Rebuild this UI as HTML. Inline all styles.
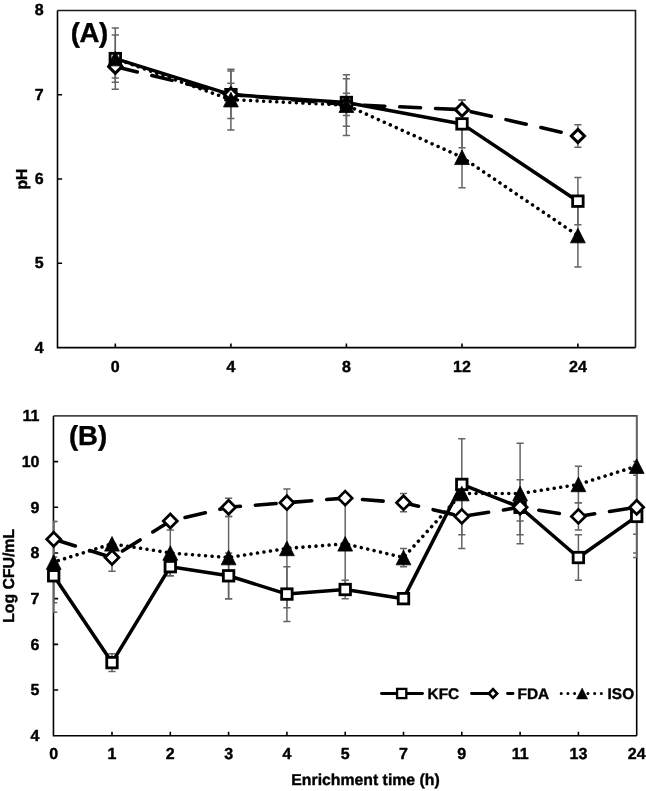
<!DOCTYPE html><html><head><meta charset="utf-8"><style>html,body{margin:0;padding:0;background:#fff;}svg{display:block;will-change:transform;}text{font-family:"Liberation Sans", sans-serif;font-weight:bold;fill:#000;stroke:#000;stroke-width:0.4px;stroke-linejoin:round;text-rendering:geometricPrecision;}</style></head><body>
<svg width="646" height="791" viewBox="0 0 646 791">
<rect width="646" height="791" fill="#fff"/>
<defs><clipPath id="ca"><rect x="56.7" y="9.4" width="579.6" height="338.7"/></clipPath><clipPath id="cb"><rect x="52.9" y="415.1" width="584.6" height="321.4"/></clipPath></defs>
<path d="M57.5 10.45H635.5V347.6" fill="none" stroke="#1a1a1a" stroke-width="1.6"/>
<path d="M57.5 10.45V347.6H635.5" fill="none" stroke="#000" stroke-width="1.6"/>
<path d="M57.5 263.31H62.1M57.5 179.03H62.1M57.5 94.74H62.1M115.3 347.6V343.6M230.9 347.6V343.6M346.4 347.6V343.6M462 347.6V343.6M577.9 347.6V343.6" stroke="#000" stroke-width="1.6" fill="none"/>
<text x="43.6" y="352.55" font-size="16" text-anchor="end">4</text>
<text x="43.6" y="268.26" font-size="16" text-anchor="end">5</text>
<text x="43.6" y="183.97" font-size="16" text-anchor="end">6</text>
<text x="43.6" y="99.69" font-size="16" text-anchor="end">7</text>
<text x="43.6" y="15.4" font-size="16" text-anchor="end">8</text>
<text x="115.3" y="372" font-size="16" text-anchor="middle">0</text>
<text x="230.9" y="372" font-size="16" text-anchor="middle">4</text>
<text x="346.4" y="372" font-size="16" text-anchor="middle">8</text>
<text x="462" y="372" font-size="16" text-anchor="middle">12</text>
<text x="577.9" y="372" font-size="16" text-anchor="middle">24</text>
<text transform="translate(26.5 179) rotate(-90)" font-size="15.8" text-anchor="middle">pH</text>
<text x="70.8" y="41.8" font-size="27.5" text-anchor="start" letter-spacing="-0.4">(A)</text>
<g clip-path="url(#ca)"><path d="M115.3 34.89V82.26M111.7 34.89H118.9M111.7 82.26H118.9" stroke="#646464" stroke-width="1.5" fill="none"/><path d="M230.9 70.88V118.41M227.3 70.88H234.5M227.3 118.41H234.5" stroke="#646464" stroke-width="1.5" fill="none"/><path d="M346.4 78.63V126.33M342.8 78.63H350M342.8 126.33H350" stroke="#646464" stroke-width="1.5" fill="none"/><path d="M462 99.95V147.82M458.4 99.95H465.6M458.4 147.82H465.6" stroke="#646464" stroke-width="1.5" fill="none"/><path d="M577.9 177.57V224.76M574.3 177.57H581.5M574.3 224.76H581.5" stroke="#646464" stroke-width="1.5" fill="none"/><path d="M115.3 55.37V77.96M111.7 55.37H118.9M111.7 77.96H118.9" stroke="#646464" stroke-width="1.5" fill="none"/><path d="M230.9 83.35V105.77M227.3 83.35H234.5M227.3 105.77H234.5" stroke="#646464" stroke-width="1.5" fill="none"/><path d="M346.4 93.3V115.54M342.8 93.3H350M342.8 115.54H350" stroke="#646464" stroke-width="1.5" fill="none"/><path d="M462 99.95V119.34M458.4 99.95H465.6M458.4 119.34H465.6" stroke="#646464" stroke-width="1.5" fill="none"/><path d="M577.9 124.65V147.23M574.3 124.65H581.5M574.3 147.23H581.5" stroke="#646464" stroke-width="1.5" fill="none"/><path d="M115.3 27.9V89.25M111.7 27.9H118.9M111.7 89.25H118.9" stroke="#646464" stroke-width="1.5" fill="none"/><path d="M230.9 69.19V130.04M227.3 69.19H234.5M227.3 130.04H234.5" stroke="#646464" stroke-width="1.5" fill="none"/><path d="M346.4 74.75V135.6M342.8 74.75H350M342.8 135.6H350" stroke="#646464" stroke-width="1.5" fill="none"/><path d="M462 126.75V187.77M458.4 126.75H465.6M458.4 187.77H465.6" stroke="#646464" stroke-width="1.5" fill="none"/><path d="M577.9 204.12V266.99M574.3 204.12H581.5M574.3 266.99H581.5" stroke="#646464" stroke-width="1.5" fill="none"/></g>
<g clip-path="url(#ca)">
<path d="M115.3 58.57 L230.9 94.64 L346.4 102.48 L462 123.89 L577.9 201.17" fill="none" stroke="#000" stroke-width="3.55" stroke-linejoin="round" stroke-linecap="round"/>
</g>
<rect x="110.05" y="53.32" width="10.5" height="10.5" fill="#fff" stroke="#000" stroke-width="2.8"/><rect x="225.65" y="89.39" width="10.5" height="10.5" fill="#fff" stroke="#000" stroke-width="2.8"/><rect x="341.15" y="97.23" width="10.5" height="10.5" fill="#fff" stroke="#000" stroke-width="2.8"/><rect x="456.75" y="118.64" width="10.5" height="10.5" fill="#fff" stroke="#000" stroke-width="2.8"/><rect x="572.65" y="195.92" width="10.5" height="10.5" fill="#fff" stroke="#000" stroke-width="2.8"/>
<g clip-path="url(#ca)">
<path d="M115.3 66.66 L230.9 94.56 L346.4 104.42 L462 109.64 L577.9 135.94" fill="none" stroke="#000" stroke-width="3.55" stroke-linejoin="round" stroke-linecap="round" stroke-dasharray="20.8 15.0" stroke-dashoffset="-1.85"/>
</g>
<path d="M115.3 60.06L121.9 66.66L115.3 73.26L108.7 66.66Z" fill="#fff" stroke="#000" stroke-width="3" stroke-linejoin="miter"/><path d="M230.9 87.96L237.5 94.56L230.9 101.16L224.3 94.56Z" fill="#fff" stroke="#000" stroke-width="3" stroke-linejoin="miter"/><path d="M346.4 97.82L353 104.42L346.4 111.02L339.8 104.42Z" fill="#fff" stroke="#000" stroke-width="3" stroke-linejoin="miter"/><path d="M462 103.04L468.6 109.64L462 116.24L455.4 109.64Z" fill="#fff" stroke="#000" stroke-width="3" stroke-linejoin="miter"/><path d="M577.9 129.34L584.5 135.94L577.9 142.54L571.3 135.94Z" fill="#fff" stroke="#000" stroke-width="3" stroke-linejoin="miter"/>
<g clip-path="url(#ca)">
<path d="M115.3 58.57 L230.9 99.62 L346.4 105.18 L462 157.26 L577.9 235.55" fill="none" stroke="#000" stroke-width="3.55" stroke-linecap="round" stroke-dasharray="0.01 6.54" stroke-dashoffset="1.75"/>
</g>
<path d="M115.3 51.27L122.7 65.87L107.9 65.87Z" fill="#000" stroke="#000" stroke-width="0.8" stroke-linejoin="miter"/><path d="M230.9 92.32L238.3 106.92L223.5 106.92Z" fill="#000" stroke="#000" stroke-width="0.8" stroke-linejoin="miter"/><path d="M346.4 97.88L353.8 112.48L339 112.48Z" fill="#000" stroke="#000" stroke-width="0.8" stroke-linejoin="miter"/><path d="M462 149.96L469.4 164.56L454.6 164.56Z" fill="#000" stroke="#000" stroke-width="0.8" stroke-linejoin="miter"/><path d="M577.9 228.25L585.3 242.85L570.5 242.85Z" fill="#000" stroke="#000" stroke-width="0.8" stroke-linejoin="miter"/>
<path d="M53.45 415.9H636.7" fill="none" stroke="#454545" stroke-width="1.6"/>
<path d="M636.7 415.1V735.7" fill="none" stroke="#000" stroke-width="1.6"/>
<path d="M53.45 415.9V735.7H636.7" fill="none" stroke="#000" stroke-width="1.6"/>
<path d="M53.45 690.01H58.15M53.45 644.33H58.15M53.45 598.64H58.15M53.45 552.96H58.15M53.45 507.27H58.15M53.45 461.59H58.15M112 735.7V731.7M170.3 735.7V731.7M228.6 735.7V731.7M286.9 735.7V731.7M345.2 735.7V731.7M403.5 735.7V731.7M461.8 735.7V731.7M520.1 735.7V731.7M578.4 735.7V731.7" stroke="#000" stroke-width="1.6" fill="none"/>
<text x="39.5" y="741" font-size="16" text-anchor="end">4</text>
<text x="39.5" y="695.31" font-size="16" text-anchor="end">5</text>
<text x="39.5" y="649.63" font-size="16" text-anchor="end">6</text>
<text x="39.5" y="603.94" font-size="16" text-anchor="end">7</text>
<text x="39.5" y="558.26" font-size="16" text-anchor="end">8</text>
<text x="39.5" y="512.57" font-size="16" text-anchor="end">9</text>
<text x="39.5" y="466.89" font-size="16" text-anchor="end">10</text>
<text x="39.5" y="421.2" font-size="16" text-anchor="end">11</text>
<text x="53.7" y="759.2" font-size="16" text-anchor="middle">0</text>
<text x="112" y="759.2" font-size="16" text-anchor="middle">1</text>
<text x="170.3" y="759.2" font-size="16" text-anchor="middle">2</text>
<text x="228.6" y="759.2" font-size="16" text-anchor="middle">3</text>
<text x="286.9" y="759.2" font-size="16" text-anchor="middle">4</text>
<text x="345.2" y="759.2" font-size="16" text-anchor="middle">5</text>
<text x="403.5" y="759.2" font-size="16" text-anchor="middle">7</text>
<text x="461.8" y="759.2" font-size="16" text-anchor="middle">9</text>
<text x="520.1" y="759.2" font-size="16" text-anchor="middle">11</text>
<text x="578.4" y="759.2" font-size="16" text-anchor="middle">13</text>
<text x="636.7" y="759.2" font-size="16" text-anchor="middle">24</text>
<text transform="translate(13.5 575.9) rotate(-90)" font-size="15.8" text-anchor="middle">Log CFU/mL</text>
<text x="365.5" y="784.6" font-size="15.8" text-anchor="middle">Enrichment time (h)</text>
<text x="68.9" y="445.2" font-size="27.5" text-anchor="start">(B)</text>
<g clip-path="url(#cb)"><path d="M53.7 539.25V612.35M50.1 539.25H57.3M50.1 612.35H57.3" stroke="#646464" stroke-width="1.5" fill="none"/><path d="M112 653.69V671.51M108.4 653.69H115.6M108.4 671.51H115.6" stroke="#646464" stroke-width="1.5" fill="none"/><path d="M170.3 557.53V575.8M166.7 557.53H173.9M166.7 575.8H173.9" stroke="#646464" stroke-width="1.5" fill="none"/><path d="M228.6 552.96V598.64M225 552.96H232.2M225 598.64H232.2" stroke="#646464" stroke-width="1.5" fill="none"/><path d="M286.9 566.66V621.49M283.3 566.66H290.5M283.3 621.49H290.5" stroke="#646464" stroke-width="1.5" fill="none"/><path d="M345.2 580.37V598.64M341.6 580.37H348.8M341.6 598.64H348.8" stroke="#646464" stroke-width="1.5" fill="none"/><path d="M403.5 596.36V600.93M399.9 596.36H407.1M399.9 600.93H407.1" stroke="#646464" stroke-width="1.5" fill="none"/><path d="M461.8 482.14V486.71M458.2 482.14H465.4M458.2 486.71H465.4" stroke="#646464" stroke-width="1.5" fill="none"/><path d="M520.1 479.86V534.68M516.5 479.86H523.7M516.5 534.68H523.7" stroke="#646464" stroke-width="1.5" fill="none"/><path d="M578.4 534.68V580.37M574.8 534.68H582M574.8 580.37H582" stroke="#646464" stroke-width="1.5" fill="none"/><path d="M636.7 475.29V557.53M633.1 475.29H640.3M633.1 557.53H640.3" stroke="#646464" stroke-width="1.5" fill="none"/><path d="M53.7 521.43V557.07M50.1 521.43H57.3M50.1 557.07H57.3" stroke="#646464" stroke-width="1.5" fill="none"/><path d="M112 543.82V571.23M108.4 543.82H115.6M108.4 571.23H115.6" stroke="#646464" stroke-width="1.5" fill="none"/><path d="M170.3 518.69V523.26M166.7 518.69H173.9M166.7 523.26H173.9" stroke="#646464" stroke-width="1.5" fill="none"/><path d="M228.6 498.13V516.41M225 498.13H232.2M225 516.41H232.2" stroke="#646464" stroke-width="1.5" fill="none"/><path d="M286.9 498.13V507.27M283.3 498.13H290.5M283.3 507.27H290.5" stroke="#646464" stroke-width="1.5" fill="none"/><path d="M345.2 493.57V502.7M341.6 493.57H348.8M341.6 502.7H348.8" stroke="#646464" stroke-width="1.5" fill="none"/><path d="M403.5 493.57V511.84M399.9 493.57H407.1M399.9 511.84H407.1" stroke="#646464" stroke-width="1.5" fill="none"/><path d="M461.8 498.13V534.68M458.2 498.13H465.4M458.2 534.68H465.4" stroke="#646464" stroke-width="1.5" fill="none"/><path d="M520.1 493.57V520.98M516.5 493.57H523.7M516.5 520.98H523.7" stroke="#646464" stroke-width="1.5" fill="none"/><path d="M578.4 502.7V530.11M574.8 502.7H582M574.8 530.11H582" stroke="#646464" stroke-width="1.5" fill="none"/><path d="M636.7 461.59V552.96M633.1 461.59H640.3M633.1 552.96H640.3" stroke="#646464" stroke-width="1.5" fill="none"/><path d="M53.7 521.43V602.75M50.1 521.43H57.3M50.1 602.75H57.3" stroke="#646464" stroke-width="1.5" fill="none"/><path d="M170.3 530.11V575.8M166.7 530.11H173.9M166.7 575.8H173.9" stroke="#646464" stroke-width="1.5" fill="none"/><path d="M228.6 516.41V598.64M225 516.41H232.2M225 598.64H232.2" stroke="#646464" stroke-width="1.5" fill="none"/><path d="M286.9 489V607.78M283.3 489H290.5M283.3 607.78H290.5" stroke="#646464" stroke-width="1.5" fill="none"/><path d="M345.2 498.13V589.51M341.6 498.13H348.8M341.6 589.51H348.8" stroke="#646464" stroke-width="1.5" fill="none"/><path d="M403.5 548.39V566.66M399.9 548.39H407.1M399.9 566.66H407.1" stroke="#646464" stroke-width="1.5" fill="none"/><path d="M461.8 438.74V548.39M458.2 438.74H465.4M458.2 548.39H465.4" stroke="#646464" stroke-width="1.5" fill="none"/><path d="M520.1 443.31V543.82M516.5 443.31H523.7M516.5 543.82H523.7" stroke="#646464" stroke-width="1.5" fill="none"/><path d="M578.4 466.15V502.7M574.8 466.15H582M574.8 502.7H582" stroke="#646464" stroke-width="1.5" fill="none"/><path d="M636.7 398.08V534.23M633.1 398.08H640.3M633.1 534.23H640.3" stroke="#646464" stroke-width="1.5" fill="none"/></g>
<g clip-path="url(#cb)">
<path d="M53.7 575.8 L112 662.6 L170.3 566.66 L228.6 575.8 L286.9 594.07 L345.2 589.51 L403.5 598.64 L461.8 484.43 L520.1 507.27 L578.4 557.53 L636.7 516.41" fill="none" stroke="#000" stroke-width="3.55" stroke-linejoin="round" stroke-linecap="round"/>
</g>
<rect x="48.45" y="570.55" width="10.5" height="10.5" fill="#fff" stroke="#000" stroke-width="2.8"/><rect x="106.75" y="657.35" width="10.5" height="10.5" fill="#fff" stroke="#000" stroke-width="2.8"/><rect x="165.05" y="561.41" width="10.5" height="10.5" fill="#fff" stroke="#000" stroke-width="2.8"/><rect x="223.35" y="570.55" width="10.5" height="10.5" fill="#fff" stroke="#000" stroke-width="2.8"/><rect x="281.65" y="588.82" width="10.5" height="10.5" fill="#fff" stroke="#000" stroke-width="2.8"/><rect x="339.95" y="584.26" width="10.5" height="10.5" fill="#fff" stroke="#000" stroke-width="2.8"/><rect x="398.25" y="593.39" width="10.5" height="10.5" fill="#fff" stroke="#000" stroke-width="2.8"/><rect x="456.55" y="479.18" width="10.5" height="10.5" fill="#fff" stroke="#000" stroke-width="2.8"/><rect x="514.85" y="502.02" width="10.5" height="10.5" fill="#fff" stroke="#000" stroke-width="2.8"/><rect x="573.15" y="552.28" width="10.5" height="10.5" fill="#fff" stroke="#000" stroke-width="2.8"/><rect x="631.45" y="511.16" width="10.5" height="10.5" fill="#fff" stroke="#000" stroke-width="2.8"/>
<g clip-path="url(#cb)">
<path d="M53.7 539.25 L112 557.53 L170.3 520.98 L228.6 507.27 L286.9 502.7 L345.2 498.13 L403.5 502.7 L461.8 516.41 L520.1 507.27 L578.4 516.41 L636.7 507.27" fill="none" stroke="#000" stroke-width="3.55" stroke-linejoin="round" stroke-linecap="round" stroke-dasharray="20.8 15.0" stroke-dashoffset="-1.85"/>
</g>
<path d="M53.7 532.25L60.7 539.25L53.7 546.25L46.7 539.25Z" fill="#fff" stroke="#000" stroke-width="2.7" stroke-linejoin="miter"/><path d="M112 550.53L119 557.53L112 564.53L105 557.53Z" fill="#fff" stroke="#000" stroke-width="2.7" stroke-linejoin="miter"/><path d="M170.3 513.98L177.3 520.98L170.3 527.98L163.3 520.98Z" fill="#fff" stroke="#000" stroke-width="2.7" stroke-linejoin="miter"/><path d="M228.6 500.27L235.6 507.27L228.6 514.27L221.6 507.27Z" fill="#fff" stroke="#000" stroke-width="2.7" stroke-linejoin="miter"/><path d="M286.9 495.7L293.9 502.7L286.9 509.7L279.9 502.7Z" fill="#fff" stroke="#000" stroke-width="2.7" stroke-linejoin="miter"/><path d="M345.2 491.13L352.2 498.13L345.2 505.13L338.2 498.13Z" fill="#fff" stroke="#000" stroke-width="2.7" stroke-linejoin="miter"/><path d="M403.5 495.7L410.5 502.7L403.5 509.7L396.5 502.7Z" fill="#fff" stroke="#000" stroke-width="2.7" stroke-linejoin="miter"/><path d="M461.8 509.41L468.8 516.41L461.8 523.41L454.8 516.41Z" fill="#fff" stroke="#000" stroke-width="2.7" stroke-linejoin="miter"/><path d="M520.1 500.27L527.1 507.27L520.1 514.27L513.1 507.27Z" fill="#fff" stroke="#000" stroke-width="2.7" stroke-linejoin="miter"/><path d="M578.4 509.41L585.4 516.41L578.4 523.41L571.4 516.41Z" fill="#fff" stroke="#000" stroke-width="2.7" stroke-linejoin="miter"/><path d="M636.7 500.27L643.7 507.27L636.7 514.27L629.7 507.27Z" fill="#fff" stroke="#000" stroke-width="2.7" stroke-linejoin="miter"/>
<g clip-path="url(#cb)">
<path d="M53.7 562.09 L112 543.82 L170.3 552.96 L228.6 557.53 L286.9 548.39 L345.2 543.82 L403.5 557.53 L461.8 493.57 L520.1 493.57 L578.4 484.43 L636.7 466.15" fill="none" stroke="#000" stroke-width="3.55" stroke-linecap="round" stroke-dasharray="0.01 6.54" stroke-dashoffset="1.75"/>
</g>
<path d="M53.7 554.79L61.1 569.39L46.3 569.39Z" fill="#000" stroke="#000" stroke-width="0.8" stroke-linejoin="miter"/><path d="M112 536.52L119.4 551.12L104.6 551.12Z" fill="#000" stroke="#000" stroke-width="0.8" stroke-linejoin="miter"/><path d="M170.3 545.66L177.7 560.26L162.9 560.26Z" fill="#000" stroke="#000" stroke-width="0.8" stroke-linejoin="miter"/><path d="M228.6 550.23L236 564.83L221.2 564.83Z" fill="#000" stroke="#000" stroke-width="0.8" stroke-linejoin="miter"/><path d="M286.9 541.09L294.3 555.69L279.5 555.69Z" fill="#000" stroke="#000" stroke-width="0.8" stroke-linejoin="miter"/><path d="M345.2 536.52L352.6 551.12L337.8 551.12Z" fill="#000" stroke="#000" stroke-width="0.8" stroke-linejoin="miter"/><path d="M403.5 550.23L410.9 564.83L396.1 564.83Z" fill="#000" stroke="#000" stroke-width="0.8" stroke-linejoin="miter"/><path d="M461.8 486.27L469.2 500.87L454.4 500.87Z" fill="#000" stroke="#000" stroke-width="0.8" stroke-linejoin="miter"/><path d="M520.1 486.27L527.5 500.87L512.7 500.87Z" fill="#000" stroke="#000" stroke-width="0.8" stroke-linejoin="miter"/><path d="M578.4 477.13L585.8 491.73L571 491.73Z" fill="#000" stroke="#000" stroke-width="0.8" stroke-linejoin="miter"/><path d="M636.7 458.85L644.1 473.45L629.3 473.45Z" fill="#000" stroke="#000" stroke-width="0.8" stroke-linejoin="miter"/>
<path d="M381.5 693.5H422.5" stroke="#000" stroke-width="2.9" stroke-linecap="round"/>
<rect x="397.1" y="688.9" width="9.2" height="9.2" fill="#fff" stroke="#000" stroke-width="2.3"/>
<text x="427.6" y="698.6" font-size="15.4" text-anchor="start">KFC</text>
<path d="M471.5 693.5H489.5M507.5 693.5H513" stroke="#000" stroke-width="2.9" stroke-linecap="round"/>
<path d="M493 689.1L497.2 693.5L493 697.9L488.8 693.5Z" fill="#fff" stroke="#000" stroke-width="2.6"/>
<text x="517.6" y="698.6" font-size="15.4" text-anchor="start">FDA</text>
<path d="M561.2 693.5H602" stroke="#000" stroke-width="3.0" stroke-linecap="round" stroke-dasharray="0.01 6.68"/>
<path d="M582.1 688.1L587.6 698.9L576.6 698.9Z" fill="#000" stroke="#000" stroke-width="0.6"/>
<text x="607.6" y="698.6" font-size="15.4" text-anchor="start">ISO</text>
</svg></body></html>
